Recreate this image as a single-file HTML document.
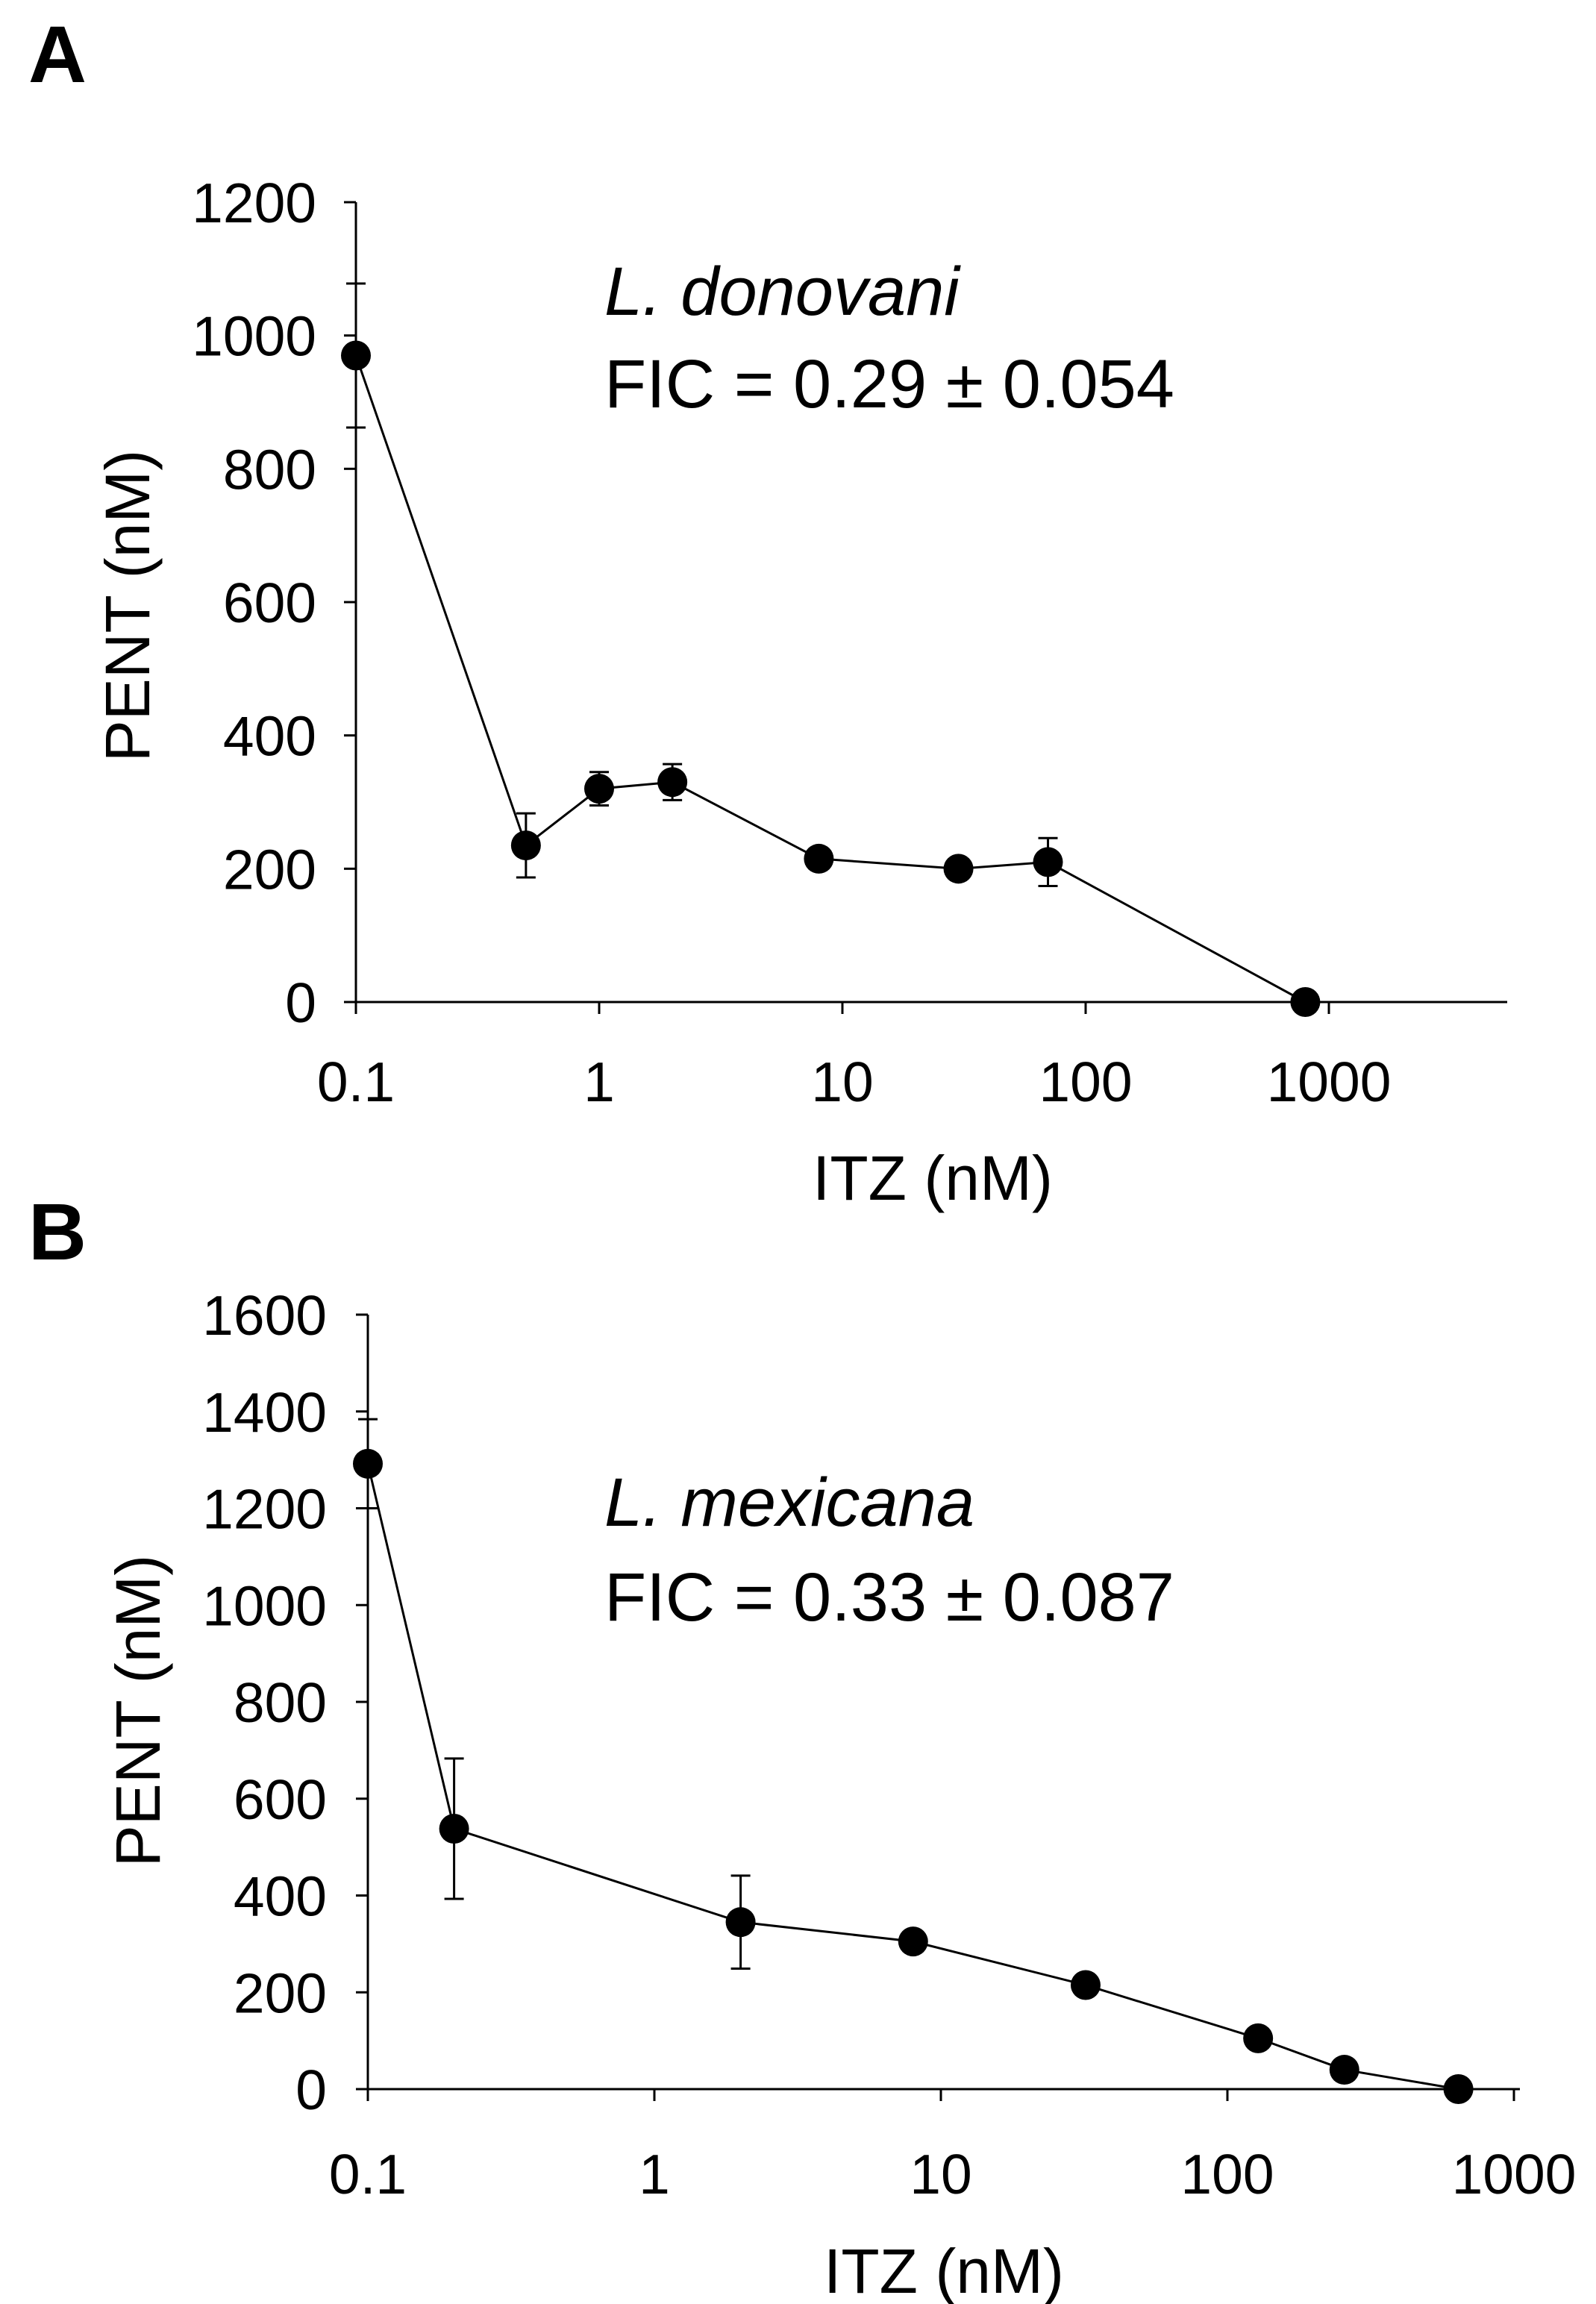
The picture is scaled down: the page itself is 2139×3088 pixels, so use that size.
<!DOCTYPE html>
<html><head><meta charset="utf-8"><style>
html,body{margin:0;padding:0;background:#fff}
svg{display:block}
text{font-family:"Liberation Sans",Arial,sans-serif;fill:#000}
</style></head><body>
<svg id="fig" width="2139" height="3088" viewBox="0 0 2139 3088" xmlns="http://www.w3.org/2000/svg"></svg>
<script>
// Panel A data
const aX = [0.1, 0.5, 1, 2, 8, 30, 70, 800];
const aY = [970, 235, 320, 330, 215, 200, 210, 0];
const aErr = [108, 48, 25, 27, 0, 0, 36, 0];
const aYTicks = [0, 200, 400, 600, 800, 1000, 1200];
const aXTicks = [0.1, 1, 10, 100, 1000];
const aXTickLabels = ["0.1", "1", "10", "100", "1000"];
// Panel B data
const bX = [0.1, 0.2, 2, 8, 32, 128, 256, 640];
const bY = [1292, 538, 345, 305, 215, 105, 40, 0];
const bErr = [92, 145, 96, 0, 0, 0, 0, 0];
const bYTicks = [0, 200, 400, 600, 800, 1000, 1200, 1400, 1600];
const bXTicks = [0.1, 1, 10, 100, 1000];
const bXTickLabels = ["0.1", "1", "10", "100", "1000"];

const NS = "http://www.w3.org/2000/svg";
const svg = document.getElementById("fig");
function mk(tag, attrs, parent) {
  const e = document.createElementNS(NS, tag);
  for (const k in attrs) e.setAttribute(k, attrs[k]);
  (parent || svg).appendChild(e);
  return e;
}
function panel(p) {
  const g = mk("g", {});
  
  
  const sx = v => p.x0 + (Math.log10(v) - Math.log10(0.1)) * p.dec;
  const sy = v => p.y0 - v * p.ppu;
  const ya = mk("line", {x1:p.x0, y1:p.y0, x2:p.x0, y2:sy(p.yMax), stroke:"#000","stroke-width":3}, g);
  
  
  const xa = mk("line", {x1:p.x0, y1:p.y0, x2:p.xEnd, y2:p.y0, stroke:"#000","stroke-width":3}, g);
  
  
  p.yTicks.forEach(v => {
    mk("line", {x1:p.x0-16, y1:sy(v), x2:p.x0, y2:sy(v), stroke:"#000","stroke-width":3}, g);
    const t = mk("text", {x:p.yLabX, y:sy(v)+27, "text-anchor":"end","font-size":75}, g);
    t.textContent = v;
    
    
  });
  p.xTicks.forEach((v, i) => {
    mk("line", {x1:sx(v), y1:p.y0, x2:sx(v), y2:p.y0+16, stroke:"#000","stroke-width":3}, g);
    const t = mk("text", {x:sx(v), y:p.xLabY, "text-anchor":"middle","font-size":75}, g);
    t.textContent = p.xLabels[i];
    
    
  });
  const pts = p.xs.map((v, i) => sx(v) + "," + sy(p.ys[i])).join(" ");
  const pl = mk("polyline", {points:pts, fill:"none", stroke:"#000","stroke-width":3}, g);
  
  
  p.xs.forEach((v, i) => {
    const e = p.err[i], cx = sx(v);
    if (e > 0) {
      const eb = mk("path", {d:`M${cx},${sy(p.ys[i]+e)}V${sy(p.ys[i]-e)}M${cx-13},${sy(p.ys[i]+e)}h26M${cx-13},${sy(p.ys[i]-e)}h26`, stroke:"#000","stroke-width":3, fill:"none"}, g);
      
      
    }
    const c = mk("circle", {cx:cx, cy:sy(p.ys[i]), r:20, fill:"#000"}, g);
    
    
  });
  const xt = mk("text", {x:p.xTitleX, y:p.xTitleY, "text-anchor":"middle","font-size":84}, g);
  xt.textContent = "ITZ (nM)";
  
  
  const yt = mk("text", {x:0, y:0, "text-anchor":"middle","font-size":84, transform:`translate(${p.yTitleX},${p.yTitleY}) rotate(-90)`}, g);
  yt.textContent = "PENT (nM)";
  
  
  const sp = mk("text", {x:810, y:p.annY1, "font-size":92, "font-style":"italic"}, g);
  sp.textContent = p.species;
  
  
  const fic = mk("text", {x:810, y:p.annY2, "font-size":92}, g);
  fic.textContent = p.fic;
  
  
  const L = mk("text", {x:38, y:p.letterY, "font-size":108, "font-weight":"bold"}, g);
  L.textContent = p.letter;
  
  
}
panel({name:"panel-a", x0:477, y0:1343, ppu:(1343-271)/1200, yMax:1200, dec:326, xEnd:2020,
  yTicks:aYTicks, xTicks:aXTicks, xLabels:aXTickLabels, xs:aX, ys:aY, err:aErr,
  yLabX:424, xLabY:1476, xTitleX:1250, xTitleY:1608, yTitleX:200, yTitleY:812,
  species:"L. donovani", fic:"FIC = 0.29 \u00b1 0.054", annY1:422, annY2:546, letter:"A", letterY:110});
panel({name:"panel-b", x0:493, y0:2800, ppu:(2800-1762)/1600, yMax:1600, dec:384, xEnd:2037,
  yTicks:bYTicks, xTicks:bXTicks, xLabels:bXTickLabels, xs:bX, ys:bY, err:bErr,
  yLabX:438, xLabY:2940, xTitleX:1265, xTitleY:3073, yTitleX:214, yTitleY:2293,
  species:"L. mexicana", fic:"FIC = 0.33 \u00b1 0.087", annY1:2045, annY2:2172, letter:"B", letterY:1688});
</script>
</body></html>
